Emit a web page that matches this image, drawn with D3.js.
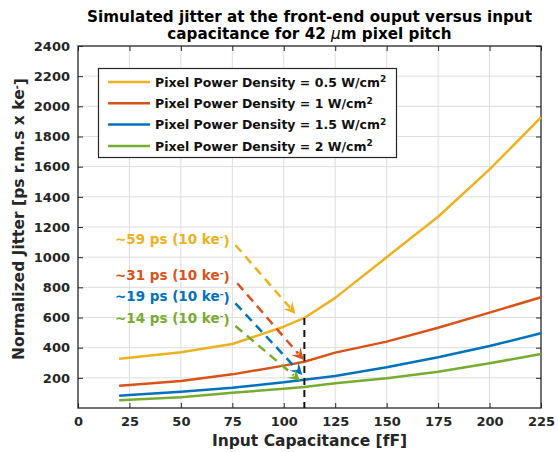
<!DOCTYPE html>
<html><head><meta charset="utf-8">
<script src="https://cdn.jsdelivr.net/npm/d3@7"></script>
<style>body{margin:0;background:#fff}svg{display:block}text{font-family:"DejaVu Sans",sans-serif;font-weight:bold}</style>
</head><body><svg id="c" width="558" height="452"></svg>
<script>
const capacitance = [20, 25, 50, 75, 100, 110, 125, 150, 175, 200, 225];
const jitter05 = [327, 333, 369, 424, 539, 597, 730, 1000, 1268, 1582, 1927];
const jitter1  = [148, 152, 179, 223, 281, 307, 367, 440, 532, 632, 734];
const jitter15 = [82, 86, 108, 135, 170, 188, 212, 270, 336, 411, 495];
const jitter2  = [51, 54, 71, 101, 128, 139, 164, 197, 241, 296, 358];
const seriesNames = ["Pixel Power Density = 0.5 W/cm", "Pixel Power Density = 1 W/cm", "Pixel Power Density = 1.5 W/cm", "Pixel Power Density = 2 W/cm"];
const seriesColors = ["#EDB120", "#D95319", "#0072BD", "#77AC30"];
const xTicks = [0, 25, 50, 75, 100, 125, 150, 175, 200, 225];
const yTicks = [200, 400, 600, 800, 1000, 1200, 1400, 1600, 1800, 2000, 2200, 2400];
const annoLabels = ["~59 ps (10 ke", "~31 ps (10 ke", "~19 ps (10 ke", "~14 ps (10 ke"];
const annoTextY = [1120, 882, 743, 597];
const arrowStart = [[76.5, 1081], [77.4, 827], [76.5, 694], [76.5, 544]];
const arrowTip = [[105.7, 623], [109.7, 318], [109, 218], [108, 180]];
const markerX = 110;

const svg = d3.select("#c");
const L = 78, R = 541, T = 46, B = 408;
const x = d3.scaleLinear().domain([0, 225]).range([L, R]);
const y = d3.scaleLinear().domain([0, 2400]).range([B, T]);
const series = [jitter05, jitter1, jitter15, jitter2];

// grid
svg.append("g").selectAll("line").data(xTicks.slice(1, -1)).join("line")
  .attr("x1", d => x(d)).attr("x2", d => x(d)).attr("y1", T).attr("y2", B)
  .attr("stroke", "#dedede").attr("stroke-width", 1);
svg.append("g").selectAll("line").data(yTicks.slice(0, -1)).join("line")
  .attr("x1", L).attr("x2", R).attr("y1", d => y(d)).attr("y2", d => y(d))
  .attr("stroke", "#dedede").attr("stroke-width", 1);

// axes
const ax = d3.axisBottom(x).tickValues(xTicks).tickSize(-5).tickPadding(9).tickFormat(d3.format("d"));
svg.append("g").attr("transform", `translate(0,${B})`).call(ax);
const axT = d3.axisTop(x).tickValues(xTicks).tickSize(-5).tickFormat("");
svg.append("g").attr("transform", `translate(0,${T})`).call(axT);
const ay = d3.axisLeft(y).tickValues(yTicks).tickSize(-5).tickPadding(8).tickFormat(d3.format("d"));
svg.append("g").attr("transform", `translate(${L},0)`).call(ay);
const ayR = d3.axisRight(y).tickValues(yTicks).tickSize(-5).tickFormat("");
svg.append("g").attr("transform", `translate(${R},0)`).call(ayR);
svg.selectAll(".domain").attr("stroke", "none");
svg.selectAll(".tick line").attr("stroke", "#262626").attr("stroke-width", 1);
svg.selectAll(".tick text").attr("fill", "#262626").style("font-size", "13px").style("font-weight", "bold").style("font-family", "DejaVu Sans");
svg.append("rect").attr("x", L).attr("y", T).attr("width", R - L).attr("height", B - T)
  .attr("fill", "none").attr("stroke", "#262626").attr("stroke-width", 1.3);

// lines
const line = d3.line().x((d, i) => x(capacitance[i])).y(d => y(d));
series.forEach((s, k) => {
  svg.append("path").datum(s).attr("d", line).attr("fill", "none")
    .attr("stroke", seriesColors[k]).attr("stroke-width", 2.5).attr("stroke-linejoin", "round");
});

// dashed marker line
svg.append("line").attr("x1", x(markerX)).attr("x2", x(markerX))
  .attr("y1", y(jitter05[capacitance.indexOf(markerX)])).attr("y2", B)
  .attr("stroke", "#111").attr("stroke-width", 2).attr("stroke-dasharray", "7,5");

// annotations
annoLabels.forEach((lab, k) => {
  const t = svg.append("text").attr("x", 115).attr("y", y(annoTextY[k])).attr("dy", "0.35em")
    .attr("fill", seriesColors[k]).style("font-size", "13.5px");
  t.append("tspan").text(lab);
  t.append("tspan").text("-").attr("dy", "-0.45em").style("font-size", "9px");
  t.append("tspan").text(")").attr("dy", "0.45em");
  const [sx, sy] = [x(arrowStart[k][0]), y(arrowStart[k][1])];
  const [tx, ty] = [x(arrowTip[k][0]), y(arrowTip[k][1])];
  const ang = Math.atan2(ty - sy, tx - sx);
  const hl = 12, hw = 6;
  const bx = tx - hl * 0.7 * Math.cos(ang), by = ty - hl * 0.7 * Math.sin(ang);
  svg.append("line").attr("x1", sx).attr("y1", sy).attr("x2", bx).attr("y2", by)
    .attr("stroke", seriesColors[k]).attr("stroke-width", 2.5).attr("stroke-dasharray", "9,6");
  const c = Math.cos(ang), s = Math.sin(ang);
  const p = (a, b) => [tx + a * c - b * s, ty + a * s + b * c];
  const pts = [p(0, 0), p(-hl, hw), p(-hl * 0.6, 0), p(-hl, -hw)];
  svg.append("polygon").attr("points", pts.map(q => q.join(",")).join(" "))
    .attr("fill", seriesColors[k]);
});

// legend
const lg = svg.append("g");
lg.append("rect").attr("x", 98.5).attr("y", 68.5).attr("width", 298).attr("height", 89)
  .attr("fill", "#fff").attr("stroke", "#262626").attr("stroke-width", 1.2);
seriesNames.forEach((n, k) => {
  const yy = 82 + k * 21.3;
  lg.append("line").attr("x1", 108).attr("x2", 150).attr("y1", yy).attr("y2", yy)
    .attr("stroke", seriesColors[k]).attr("stroke-width", 2.5);
  const t = lg.append("text").attr("x", 155).attr("y", yy).attr("dy", "0.38em")
    .attr("fill", "#111").style("font-size", "12.5px");
  t.append("tspan").text(n);
  t.append("tspan").text("2").attr("dy", "-0.5em").style("font-size", "9px");
});

// title
svg.append("text").attr("x", (L + R) / 2).attr("y", 21.5).attr("text-anchor", "middle")
  .attr("fill", "#000").style("font-size", "15.2px").text("Simulated jitter at the front-end ouput versus input");
const t2 = svg.append("text").attr("x", (L + R) / 2).attr("y", 38.5).attr("text-anchor", "middle")
  .attr("fill", "#000").style("font-size", "15.2px");
t2.append("tspan").text("capacitance for 42 ");
t2.append("tspan").text("μ").style("font-style", "italic").style("font-weight", "normal");
t2.append("tspan").text("m pixel pitch");

// axis labels
svg.append("text").attr("x", (L + R) / 2).attr("y", 446).attr("text-anchor", "middle")
  .attr("fill", "#262626").style("font-size", "15.5px").text("Input Capacitance [fF]");
const yl = svg.append("text").attr("transform", `translate(24,${(T + B) / 2 - 8}) rotate(-90)`)
  .attr("text-anchor", "middle").attr("fill", "#262626").style("font-size", "15.5px");
yl.append("tspan").text("Normalized Jitter [ps r.m.s x ke");
yl.append("tspan").text("-").attr("dy", "-0.45em").style("font-size", "10px");
yl.append("tspan").text("]").attr("dy", "0.45em");
</script></body></html>
